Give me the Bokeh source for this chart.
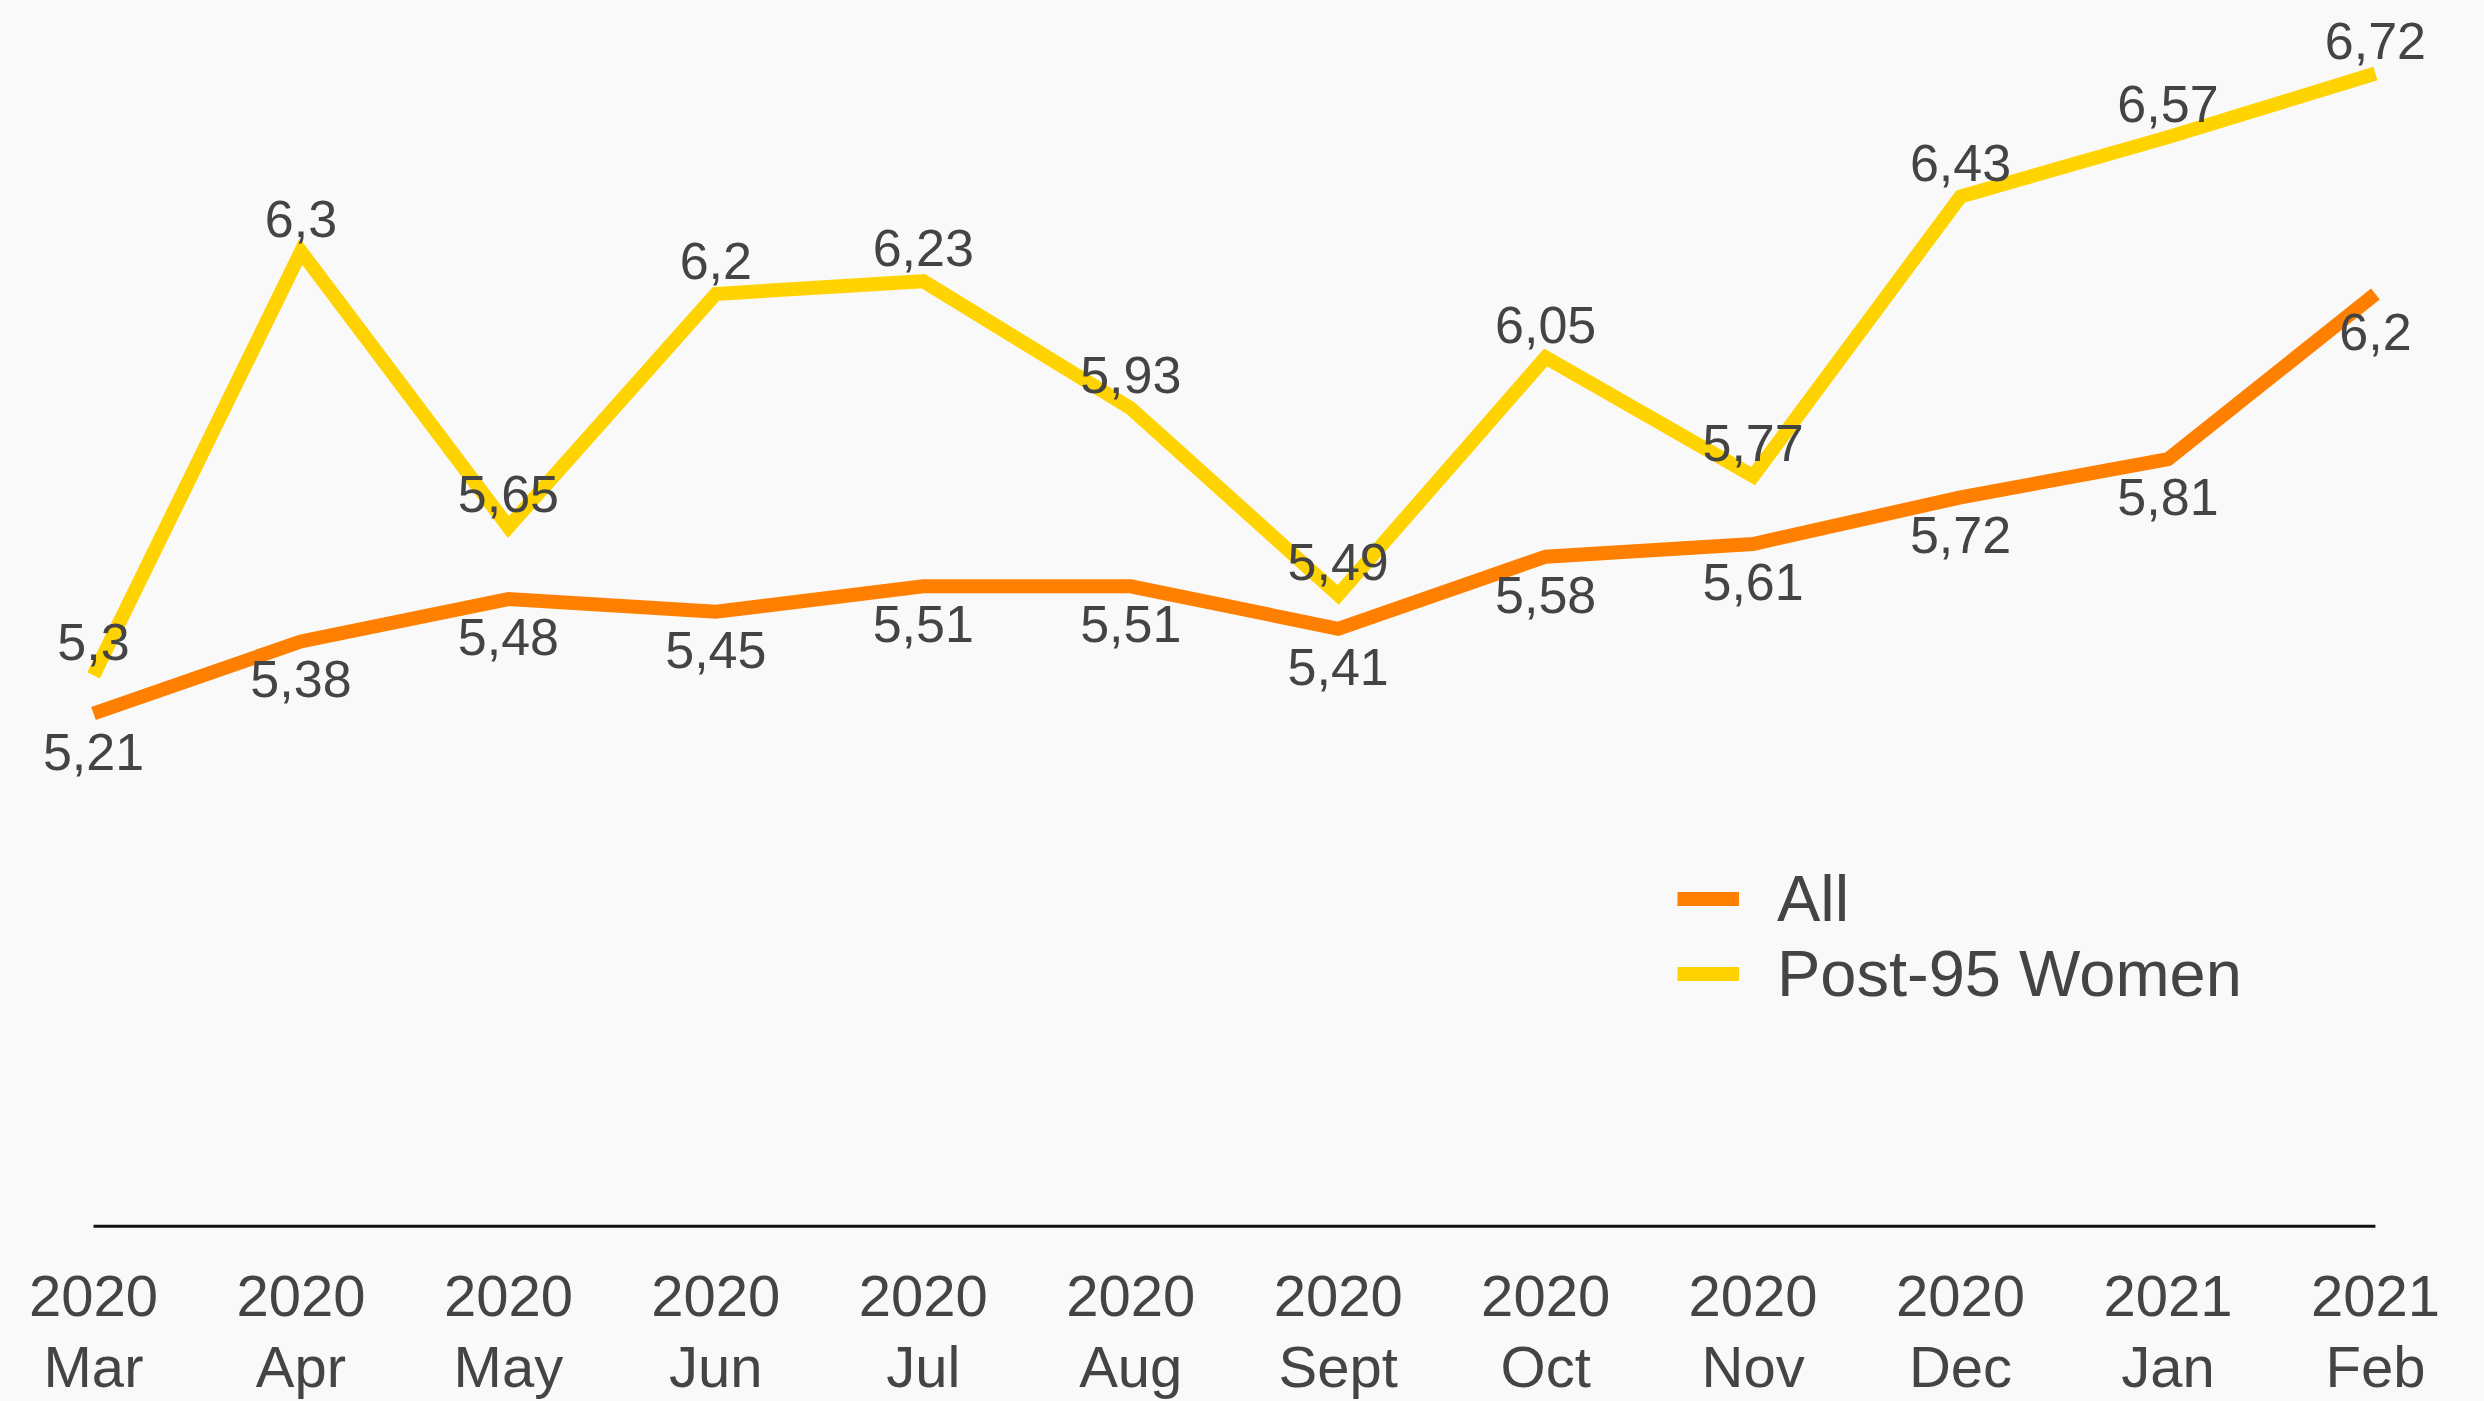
from bokeh.plotting import figure
from bokeh.models import Range1d, Legend, LegendItem, ColumnDataSource
from bokeh.core.properties import value
from bokeh.embed import file_html
from bokeh.resources import INLINE

# ---- data ----
years = ["2020", "2020", "2020", "2020", "2020", "2020", "2020", "2020", "2020", "2020", "2021", "2021"]
months = ["Mar", "Apr", "May", "Jun", "Jul", "Aug", "Sept", "Oct", "Nov", "Dec", "Jan", "Feb"]
all_vals = [5.21, 5.38, 5.48, 5.45, 5.51, 5.51, 5.41, 5.58, 5.61, 5.72, 5.81, 6.2]
women_vals = [5.3, 6.3, 5.65, 6.2, 6.23, 5.93, 5.49, 6.05, 5.77, 6.43, 6.57, 6.72]
series_names = ["All", "Post-95 Women"]
Y_BASE = 4.0

# ---- styling ----
ORANGE = "#ff8000"
YELLOW = "#ffd300"
TEXT = "#444444"
BG = "#f9f9f9"
FONT = "Liberation Sans"

xs = list(range(len(months)))


def fmt(v):
    return ("%g" % v).replace(".", ",")


src_all = ColumnDataSource(dict(x=xs, y=all_vals, t=[fmt(v) for v in all_vals]))
src_w = ColumnDataSource(dict(x=xs, y=women_vals, t=[fmt(v) for v in women_vals]))
src_ticks = ColumnDataSource(dict(x=xs, y=[Y_BASE] * len(xs), yr=years, mo=months))

p = figure(
    width=2484, height=1401,
    x_range=Range1d(-0.4483, 11.5258),
    y_range=Range1d(3.5866, 6.8924),
    output_backend="svg", toolbar_location=None,
    x_axis_location=None, y_axis_location=None,
    min_border_left=0, min_border_right=0, min_border_top=0, min_border_bottom=0,
)
p.background_fill_color = BG
p.border_fill_color = BG
p.outline_line_color = None
p.xgrid.visible = False
p.ygrid.visible = False

# baseline (x axis line)
p.segment(x0=[xs[0]], y0=[Y_BASE], x1=[xs[-1]], y1=[Y_BASE], line_color="#111111", line_width=3)

# category labels (two lines: year / month)
p.text("x", "y", text="yr", source=src_ticks, text_align="center", text_baseline="middle",
       y_offset=70, text_font=value(FONT), text_font_size="58px", text_color=TEXT)
p.text("x", "y", text="mo", source=src_ticks, text_align="center", text_baseline="middle",
       y_offset=140, text_font=value(FONT), text_font_size="58px", text_color=TEXT)

r_w = p.line("x", "y", source=src_w, line_color=YELLOW, line_width=14, line_join="miter")
r_a = p.line("x", "y", source=src_all, line_color=ORANGE, line_width=14, line_join="miter")

p.text("x", "y", text="t", source=src_all, text_align="center", text_baseline="middle",
       y_offset=38, text_font=value(FONT), text_font_size="52px", text_color=TEXT)
p.text("x", "y", text="t", source=src_w, text_align="center", text_baseline="middle",
       y_offset=-33, text_font=value(FONT), text_font_size="52px", text_color=TEXT)

legend = Legend(
    items=[LegendItem(label=series_names[0], renderers=[r_a]),
           LegendItem(label=series_names[1], renderers=[r_w])],
    location=(1677, 390),
    orientation="vertical",
    glyph_width=62, glyph_height=75, label_height=75, label_standoff=38,
    spacing=0, padding=0, margin=0,
    border_line_color=None, background_fill_alpha=0,
    label_text_font=FONT, label_text_font_size="65px", label_text_color=TEXT,
)
p.add_layout(legend)

open("out.html", "w").write(file_html(p, INLINE))
